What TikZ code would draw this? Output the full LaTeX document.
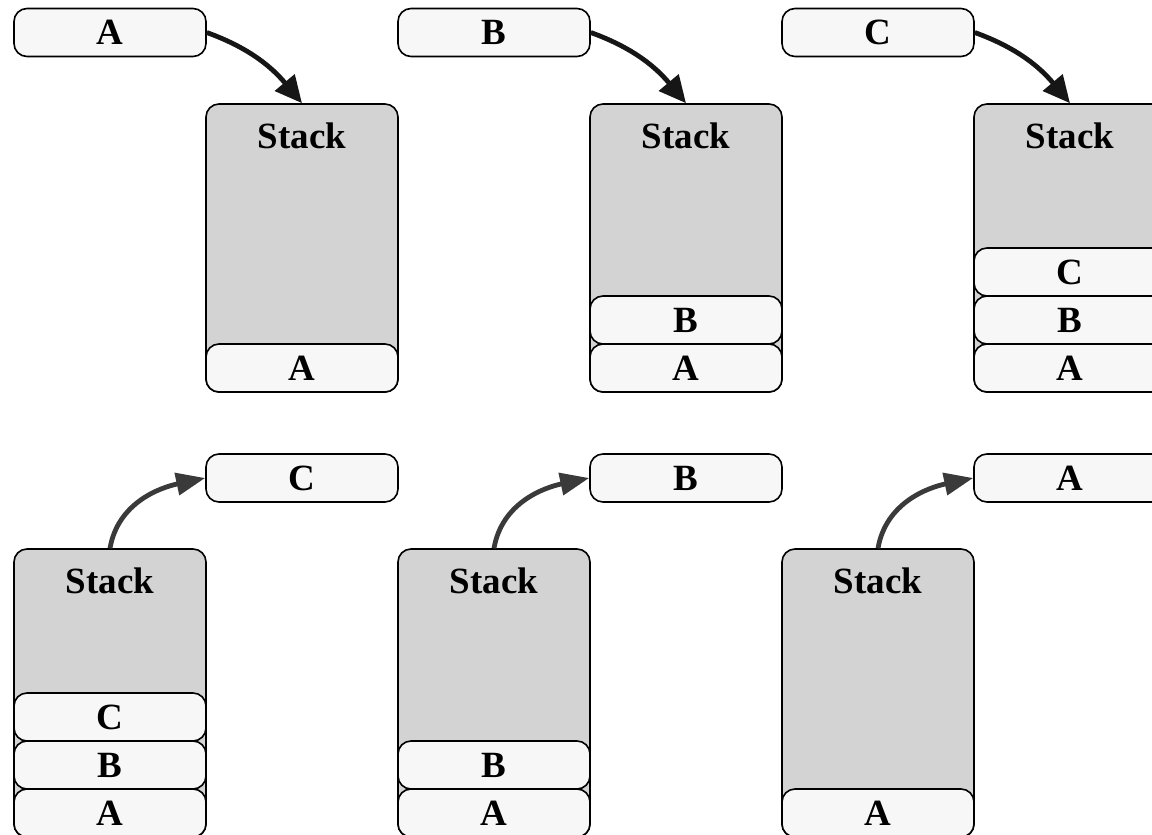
\documentclass[tikz,border=0pt]{standalone}
\usepackage{fontspec}
\setmainfont{Liberation Serif}
\usetikzlibrary{arrows.meta}
\definecolor{stackfill}{HTML}{D3D3D3}
\definecolor{itemfill}{HTML}{F7F7F7}
\definecolor{pusharrow}{HTML}{161616}
\definecolor{poparrow}{HTML}{3A3A3A}
\tikzset{
  stackbox/.style={draw=black, line width=1.6pt, fill=stackfill, rounded corners=13pt,
    minimum width=192pt, minimum height=288pt, inner sep=0pt},
  itembox/.style={draw=black, line width=1.6pt, fill=itemfill, rounded corners=13pt,
    minimum width=192pt, minimum height=48pt, inner sep=0pt,
    font=\fontsize{37}{40}\selectfont\bfseries},
  stacklbl/.style={inner sep=0pt, font=\fontsize{37}{40}\selectfont\bfseries},
  pusharr/.style={draw=pusharrow, line width=4.8pt, -{Triangle[length=27pt,width=25pt]}},
  poparr/.style={draw=poparrow, line width=4.8pt, -{Triangle[length=29pt,width=22pt]}},
}
\begin{document}
\begin{tikzpicture}[x=1pt,y=1pt]
\useasboundingbox (0,0) rectangle (1152,-835);
\clip (0,0) rectangle (1152,-835);
% ---- top row: push ----
\node[itembox] (tA) at (110,-32.5) {A};
\node[itembox] (tB) at (494,-32.5) {B};
\node[itembox] (tC) at (878,-32.5) {C};
\node[stackbox] (s1) at (302,-248) {};
\node[stackbox] (s2) at (686,-248) {};
\node[stackbox] (s3) at (1070,-248) {};
\node[stacklbl] (s1l) at ([yshift=-33pt]s1.north) {Stack};
\node[stacklbl] (s2l) at ([yshift=-33pt]s2.north) {Stack};
\node[stacklbl] (s3l) at ([yshift=-33pt]s3.north) {Stack};
\node[itembox] (s1a) at (302,-368) {A};
\node[itembox] (s2a) at (686,-368) {A};
\node[itembox] (s2b) at (686,-320) {B};
\node[itembox] (s3a) at (1070,-368) {A};
\node[itembox] (s3b) at (1070,-320) {B};
\node[itembox] (s3c) at (1070,-272) {C};
\draw[pusharr] (tA.east) to[out=-20,in=130] (s1.north);
\draw[pusharr] (tB.east) to[out=-20,in=130] (s2.north);
\draw[pusharr] (tC.east) to[out=-20,in=130] (s3.north);
% ---- bottom row: pop ----
\node[itembox] (bC) at (302,-478) {C};
\node[itembox] (bB) at (686,-478) {B};
\node[itembox] (bA) at (1070,-478) {A};
\node[stackbox] (s4) at (110,-693) {};
\node[stackbox] (s5) at (494,-693) {};
\node[stackbox] (s6) at (878,-693) {};
\node[stacklbl] (s4l) at ([yshift=-33pt]s4.north) {Stack};
\node[stacklbl] (s5l) at ([yshift=-33pt]s5.north) {Stack};
\node[stacklbl] (s6l) at ([yshift=-33pt]s6.north) {Stack};
\node[itembox] (s4a) at (110,-813) {A};
\node[itembox] (s4b) at (110,-765) {B};
\node[itembox] (s4c) at (110,-717) {C};
\node[itembox] (s5a) at (494,-813) {A};
\node[itembox] (s5b) at (494,-765) {B};
\node[itembox] (s6a) at (878,-813) {A};
\draw[poparr] (s4.north) to[out=80,in=192] (bC.west);
\draw[poparr] (s5.north) to[out=80,in=192] (bB.west);
\draw[poparr] (s6.north) to[out=80,in=192] (bA.west);
\end{tikzpicture}
\end{document}
